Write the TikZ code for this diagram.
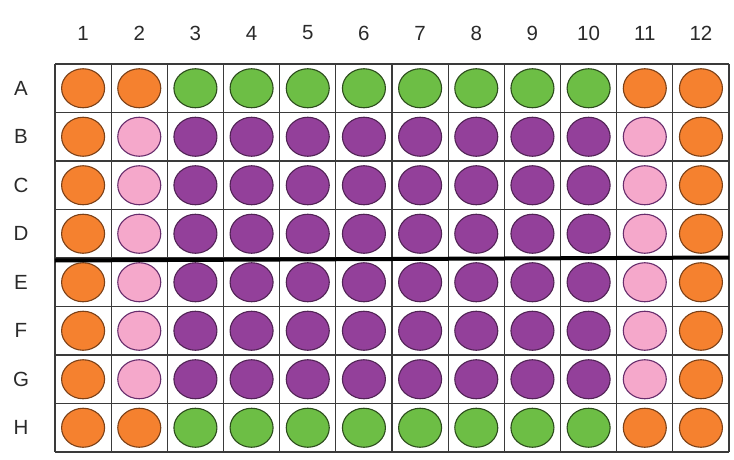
\documentclass[tikz,border=0pt]{standalone}
\usepackage{fontspec}
\setmainfont{Liberation Sans}
\definecolor{cor}{HTML}{F5812F}
\definecolor{cgr}{HTML}{6DBE45}
\definecolor{cpu}{HTML}{93409A}
\definecolor{cpk}{HTML}{F5A8CB}
\definecolor{gridc}{HTML}{3A3A3A}
\definecolor{labc}{HTML}{2A2A2A}
\tikzset{
  well/.style={ellipse, minimum width=43pt, minimum height=39pt, inner sep=0pt, line width=1.1pt},
  wor/.style={well, fill=cor, draw=cor!50!black},
  wgr/.style={well, fill=cgr, draw=cgr!40!black},
  wpu/.style={well, fill=cpu, draw=cpu!55!black},
  wpk/.style={well, fill=cpk, draw=cpu!70!black},
  lab/.style={text=labc, font=\fontsize{20.5}{20.5}\selectfont, inner sep=0pt},
  gridl/.style={draw=gridc, line width=1.2pt},
  divl/.style={draw=black, line width=4pt},
}
\usetikzlibrary{shapes.geometric}
\begin{document}
\begin{tikzpicture}[x=1pt,y=-1pt]
\useasboundingbox[fill=white] (0,0) rectangle (734,460);
\def\xl{55}\def\cw{56.17}\def\yt{64}\def\rh{48.5}
% grid
\foreach \i in {0,...,12} \draw[gridl] ({\xl+\i*\cw},\yt) -- ({\xl+\i*\cw},{\yt+8*\rh});
\foreach \j in {0,...,8} \draw[gridl] (\xl,{\yt+\j*\rh}) -- ({\xl+12*\cw},{\yt+\j*\rh});
% column labels
\foreach \i in {1,...,12} \node[lab] (c\i) at ({\xl+(\i-0.5)*\cw},33) {\i};
% row labels
\foreach \r [count=\j] in {A,B,C,D,E,F,G,H} \node[lab] (r\r) at (21,{\yt+(\j-0.5)*\rh}) {\r};
% wells
\foreach \r [count=\j] in {A,B,C,D,E,F,G,H} {
  \foreach \i in {1,...,12} {
    \pgfmathtruncatemacro{\edge}{(\j==1 || \j==8) ? 1 : 0}
    \ifnum\edge=1
      \pgfmathtruncatemacro{\o}{(\i<=2 || \i>=11) ? 1 : 0}
      \ifnum\o=1 \def\st{wor}\else\def\st{wgr}\fi
    \else
      \pgfmathtruncatemacro{\o}{(\i==1 || \i==12) ? 1 : ((\i==2 || \i==11) ? 2 : 3)}
      \ifcase\o\or\def\st{wor}\or\def\st{wpk}\or\def\st{wpu}\fi
    \fi
    \node[\st] (w\r\i) at ({\xl+(\i-0.5)*\cw},{\yt+(\j-0.5)*\rh}) {};
  }
}
% divider
\coordinate (dl) at (55,260.5);
\coordinate (dr) at (729,257.5);
\draw[divl] (dl) -- (dr);
\end{tikzpicture}
\end{document}
